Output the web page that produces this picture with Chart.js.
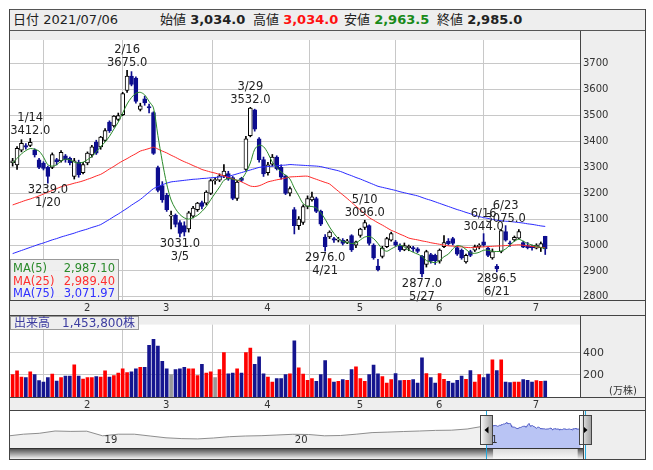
<!DOCTYPE html>
<html>
<head>
<meta charset="utf-8">
<script src="https://cdn.jsdelivr.net/npm/chart.js@4.4.0/dist/chart.umd.min.js"></script>
<style>
  body { margin: 0; width: 653px; height: 470px; position: relative; overflow: hidden; background: #fff;
         font-family: "DejaVu Sans", "Noto Sans CJK JP", sans-serif; }
  canvas { position: absolute; left: 0; }
  .ov { position: absolute; box-sizing: border-box; }
  #head { left: 9px; top: 9px; width: 637px; height: 22px; background: #eeeeee; border: 1px solid #555;
          font-size: 13px; line-height: 20px; color: #222; white-space: nowrap; }
  #head span { position: absolute; top: 0; }
  #head b { font-weight: bold; }
  .line { position: absolute; background: #444; }
  #legend { left: 10px; top: 259px; width: 109px; height: 42px; background: rgba(238,238,238,0.92);
            border: 1px solid #999; font-size: 11.5px; line-height: 12.6px; padding-top: 2px; }
  #legend div { position: relative; height: 12.6px; }
  #legend span { position: absolute; }
  #vlabel { left: 10px; top: 316px; height: 14px; padding: 0 3px; background: #eeeeee; border: 1px solid #999;
            font-size: 12px; line-height: 12px; color: #3c3ca0; white-space: nowrap; }
</style>
</head>
<body>
<canvas id="price" width="653" height="284" style="top:31px"></canvas>
<canvas id="vol" width="653" height="95" style="top:315px"></canvas>
<canvas id="nav" width="653" height="50" style="top:410px"></canvas>

<div class="ov" id="head"></div>
<div class="ov" id="legend"></div>
<div class="ov" id="vlabel"></div>

<div class="line" style="left:9px;top:9px;width:1px;height:451px"></div>
<div class="line" style="left:645px;top:9px;width:1px;height:451px"></div>
<div class="line" style="left:9px;top:459px;width:637px;height:1px"></div>
<div class="line" style="left:9px;top:300px;width:637px;height:1px"></div>
<div class="line" style="left:9px;top:315px;width:637px;height:1px"></div>
<div class="line" style="left:9px;top:397px;width:637px;height:1px"></div>
<div class="line" style="left:9px;top:410px;width:637px;height:1px"></div>
<div class="line" style="left:580px;top:31px;width:1px;height:269px"></div>
<div class="line" style="left:580px;top:316px;width:1px;height:81px"></div>
<div class="line" style="left:583px;top:411px;width:1px;height:48px"></div>

<script>
const year = 2021;
const dates = [
  '01/07','01/08','01/12','01/13','01/14','01/15','01/18','01/19','01/20','01/21','01/22','01/25','01/26','01/27','01/28','01/29',
  '02/01','02/02','02/03','02/04','02/05','02/08','02/09','02/10','02/12','02/15','02/16','02/17','02/18','02/19','02/22','02/24','02/25','02/26',
  '03/01','03/02','03/03','03/04','03/05','03/08','03/09','03/10','03/11','03/12','03/15','03/16','03/17','03/18','03/19','03/22','03/23','03/24','03/25','03/26','03/29','03/30','03/31',
  '04/01','04/02','04/05','04/06','04/07','04/08','04/09','04/12','04/13','04/14','04/15','04/16','04/19','04/20','04/21','04/22','04/23','04/26','04/27','04/28','04/30',
  '05/06','05/07','05/10','05/11','05/12','05/13','05/14','05/17','05/18','05/19','05/20','05/21','05/24','05/25','05/26','05/27','05/28','05/31',
  '06/01','06/02','06/03','06/04','06/07','06/08','06/09','06/10','06/11','06/14','06/15','06/16','06/17','06/18','06/21','06/22','06/23','06/24','06/25','06/28','06/29','06/30',
  '07/01','07/02','07/05','07/06'
];

const open = [
  3318,3310,3367,3384,3385,3367,3329,3317,3300,3300,3330,3325,3345,3335,3265,3320,
  3280,3317,3348,3398,3379,3404,3475,3460,3485,3504,3597,3653,3645,3524,3565,3535,3512,3299,
  3230,3193,3112,3115,3087,3075,3062,3112,3137,3164,3162,3199,3249,3251,3267,3276,3261,3180,3258,3292,3423,3522,3410,
  3330,3280,3312,3340,3300,3267,3200,3137,3075,3087,3149,3174,3180,3130,3031,3031,3025,3019,3019,3010,3037,
  3000,3037,3068,3075,3000,2919,2956,2994,3019,3012,2996,2981,2990,2990,2985,2956,2925,2963,
  2960,2938,2994,3015,3025,2990,2980,2935,2975,2980,2994,3012,2988,2950,2918,2975,3052,3008,3020,3027,3010,2998,
  2995,2988,2990,3034
];
const high = [
  3335,3380,3407,3392,3412,3372,3335,3322,3305,3356,3335,3365,3350,3340,3335,3328,
  3320,3360,3385,3405,3420,3450,3480,3500,3510,3590,3675,3670,3650,3548,3575,3545,3515,3305,
  3245,3200,3131,3120,3095,3090,3130,3150,3165,3170,3210,3255,3262,3275,3311,3285,3265,3250,3262,3420,3532,3525,3415,
  3340,3320,3350,3345,3310,3270,3225,3145,3110,3155,3190,3205,3185,3135,3040,3055,3030,3030,3025,3022,3040,
  3015,3065,3096,3078,3005,2945,2995,3030,3050,3018,3005,3008,3000,2995,2990,2960,2980,2968,
  2965,2985,3037,3025,3030,2995,2985,2965,2980,3000,3005,3044,2992,2985,2925,3060,3075,3015,3035,3060,3015,3010,
  3000,3005,3012,3034
];
const low = [
  3305,3292,3360,3370,3380,3340,3295,3290,3239,3295,3310,3320,3320,3310,3255,3262,
  3275,3310,3340,3350,3370,3400,3435,3455,3480,3500,3590,3615,3548,3518,3540,3510,3350,3205,
  3165,3130,3062,3070,3031,3035,3050,3105,3130,3140,3155,3195,3235,3245,3260,3250,3175,3172,3245,3288,3418,3440,3320,
  3265,3270,3305,3290,3255,3195,3190,3043,3060,3080,3140,3170,3125,3075,2976,3025,3010,3012,3000,3005,2975,
  2990,3030,3060,3000,2945,2900,2950,2990,3015,2995,2975,2978,2978,2975,2970,2877,2915,2930,
  2925,2930,2990,3000,3000,2960,2945,2930,2955,2975,2985,2995,2955,2945,2896.5,2970,3015,2995,3015,3025,2990,2985,
  2980,2985,2975,2963.5
];
const close = [
  3325,3374,3393,3378,3397,3348,3300,3296,3265,3350,3322,3358,3330,3318,3325,3272,
  3311,3355,3379,3355,3417,3442,3442,3498,3500,3585,3653,3621,3555,3538,3549,3530,3354,3211,
  3174,3137,3112,3080,3045,3050,3124,3143,3162,3149,3205,3249,3249,3267,3286,3255,3180,3243,3250,3410,3529,3448,3330,
  3275,3310,3340,3295,3262,3199,3218,3075,3100,3149,3180,3186,3130,3081,2994,3050,3019,3023,3006,3016,2981,
  3012,3062,3087,3006,2950,2905,2988,3025,3044,3000,2981,2998,2995,2985,2975,2888,2975,2938,
  2940,2981,3010,3005,3006,2965,2950,2960,2960,2994,3000,3000,2960,2975,2908,3056,3019,3005,3030,3052,2992,2990,
  2990,3000,3006,2985
];
// 出来高 (万株)
const volume = [
  203,237,181,176,229,203,149,136,176,208,144,176,189,189,291,189,
  163,176,176,184,181,237,181,195,216,256,221,229,256,269,269,469,523,461,
  323,256,203,248,256,269,256,256,195,296,216,229,176,248,403,211,216,256,216,403,443,296,363,
  211,181,136,168,168,203,211,509,265,208,151,167,143,203,329,167,135,143,157,151,248,
  273,167,143,203,289,211,184,127,157,213,149,151,151,157,127,354,213,176,
  127,213,159,143,127,151,189,159,240,135,203,176,208,337,240,337,135,130,135,135,157,151,
  135,149,143,145.38
];
const ma5 = [
  3317,3335,3352,3365,3373,3370,3363,3340,3310,3305,3310,3325,3332,3330,3320,3317,
  3320,3330,3342,3360,3380,3398,3420,3448,3475,3510,3545,3570,3586,3590,3580,3555,3530,3423,
  3323,3236,3174,3140,3118,3105,3100,3106,3115,3130,3149,3175,3200,3224,3250,3257,3255,3250,3255,3280,3317,3370,3386,
  3380,3355,3320,3300,3282,3270,3255,3220,3190,3160,3150,3149,3143,3125,3100,3070,3045,3025,3014,3010,3006,
  3008,3020,3031,3033,3025,3006,2985,2976,2985,2994,3000,2992,2981,2972,2965,2956,2940,2935,
  2932,2940,2955,2965,2985,2998,2995,2983,2970,2968,2972,2980,2980,2976,2975,2976,2985,3000,3015,3022,3015,3006,
  3000,2995,2990,2987.10
];
const ma25 = [
  3155,3161,3167,3173,3178,3184,3190,3197,3204,3211,3218,3225,3230,3234,3239,3243,
  3248,3254,3260,3267,3273,3283,3294,3304,3315,3325,3334,3344,3353,3363,3368,3373,3378,3371,
  3363,3356,3347,3339,3330,3322,3315,3307,3300,3292,3287,3282,3278,3273,3267,3261,3256,3250,3244,3236,3228,3226,3229,
  3236,3244,3248,3252,3255,3259,3263,3264,3265,3266,3266,3260,3254,3248,3242,3236,3222,3208,3194,3180,3165,
  3150,3136,3121,3106,3096,3086,3077,3067,3057,3050,3042,3035,3027,3023,3020,3016,3013,3009,
  3006,3003,3000,2997,2996,2994,2993,2991,2990,2991,2992,2993,2994,2995,2996,2997,2998,2999,3000,3001,2999,2997,
  2995,2993,2991,2989.40
];
const ma75 = [
  2967,2973,2979,2985,2991,2997,3003,3008,3014,3020,3025,3031,3036,3041,3046,3052,
  3057,3062,3068,3073,3079,3089,3099,3110,3120,3131,3142,3154,3165,3176,3190,3204,3218,3226,
  3233,3239,3244,3246,3248,3250,3252,3254,3255,3257,3258,3260,3261,3263,3264,3266,3270,3275,3280,3285,3290,3295,3300,
  3302,3303,3305,3306,3308,3309,3311,3310,3309,3308,3307,3306,3305,3303,3299,3295,3291,3287,3281,3274,3268,
  3261,3255,3248,3241,3234,3227,3223,3219,3215,3211,3206,3202,3198,3194,3190,3184,3178,3173,
  3167,3161,3155,3149,3143,3137,3132,3126,3121,3115,3110,3106,3103,3099,3096,3094,3092,3091,3089,3087,3085,3082,
  3080,3077,3074,3071.97
];
const priceTicks = [2800, 2900, 3000, 3100, 3200, 3300, 3400, 3500, 3600, 3700];
const volTicks = [200, 400];
const highMarks = ['01/14', '02/16', '03/29', '05/10', '06/16', '06/23'];
const lowMarks = ['01/20', '03/05', '04/21', '05/27', '06/21'];
// navigator: monthly closes Jul 2018 .. Dec 2020
const navValues = [
  2300,2480,2570,2800,2760,2780,2320,2480,2480,2300,2120,2040,2010,2100,2230,
  2300,2330,2400,2470,2450,2320,2350,2480,2640,2690,2750,2800,2860,2880,3000
];
const navYears = ['19', '20', '21'];

const n = dates.length;
const DOWN = '#0d0d8f';
const GRID = '#c8c8c8';
const X_MIN = -0.6, X_MAX = 128.9;
Chart.defaults.font.family = "'DejaVu Sans', sans-serif";
Chart.defaults.color = '#333';

const dir = close.map((c, i) => Math.sign(c - open[i]));
const monthStarts = dates.map((d, i) => i).filter(i => i > 0 && dates[i].slice(0, 2) !== dates[i - 1].slice(0, 2));
const fmt = (v, d) => v.toLocaleString('en-US', { minimumFractionDigits: d, maximumFractionDigits: d });

const panelBg = {
  id: 'panelBg',
  beforeDraw(chart) {
    const { ctx, chartArea: a, height } = chart;
    ctx.save();
    ctx.fillStyle = '#eeeeee';
    ctx.fillRect(9, 0, 636, height);
    ctx.fillStyle = '#ffffff';
    ctx.fillRect(a.left, a.top, a.right - a.left, a.bottom - a.top);
    ctx.restore();
  }
};

const marks = {
  id: 'marks',
  afterDatasetsDraw(chart) {
    const { ctx, scales: { x, y } } = chart;
    ctx.save();
    ctx.font = '11.5px "DejaVu Sans"';
    ctx.fillStyle = '#222';
    ctx.textAlign = 'center';
    ctx.textBaseline = 'alphabetic';
    highMarks.forEach(d => {
      const i = dates.indexOf(d);
      const px = x.getPixelForValue(i), py = y.getPixelForValue(high[i]);
      ctx.fillText(high[i].toFixed(1), px, py - 4);
      ctx.fillText(+d.slice(0, 2) + '/' + +d.slice(3), px, py - 17);
    });
    lowMarks.forEach(d => {
      const i = dates.indexOf(d);
      const px = x.getPixelForValue(i), py = y.getPixelForValue(low[i]);
      ctx.fillText(low[i].toFixed(1), px, py + 10);
      ctx.fillText(+d.slice(0, 2) + '/' + +d.slice(3), px, py + 23);
    });
    ctx.restore();
  }
};

function xAxis(h) {
  return {
    type: 'linear', min: X_MIN, max: X_MAX, offset: false,
    afterBuildTicks: s => { s.ticks = monthStarts.map(v => ({ value: v })); },
    afterFit: s => { s.height = h; },
    ticks: { callback: v => String(+dates[v].slice(0, 2)), labelOffset: 4, autoSkip: false, maxRotation: 0,
             padding: 2, font: { size: 10 }, color: '#333' },
    grid: { color: GRID, drawTicks: false },
    border: { display: false }
  };
}

new Chart(document.getElementById('price'), {
  type: 'bar',
  data: {
    datasets: [
      { type: 'line', data: ma5.map((v, i) => ({ x: i, y: v })), borderColor: '#2a8a2a', borderWidth: 1, pointRadius: 0, tension: 0.3, order: 0 },
      { type: 'line', data: ma25.map((v, i) => ({ x: i, y: v })), borderColor: '#ff2a2a', borderWidth: 1, pointRadius: 0, tension: 0.3, order: 0 },
      { type: 'line', data: ma75.map((v, i) => ({ x: i, y: v })), borderColor: '#2a2aff', borderWidth: 1, pointRadius: 0, tension: 0.3, order: 0 },
      { data: dates.map((d, i) => ({ x: i, y: [open[i], close[i]] })),
        backgroundColor: dir.map(v => v < 0 ? DOWN : '#ffffff'),
        borderColor: dir.map(v => v < 0 ? DOWN : '#000000'),
        borderWidth: 1, borderSkipped: false, barThickness: 4, minBarLength: 1, grouped: false, order: 1 },
      { data: dates.map((d, i) => ({ x: i, y: [low[i], high[i]] })),
        backgroundColor: dir.map(v => v < 0 ? DOWN : '#000000'),
        barThickness: 1, grouped: false, order: 2 }
    ]
  },
  options: {
    responsive: false, animation: false,
    layout: { padding: { left: 10, right: 8, top: 0, bottom: 0 } },
    plugins: { legend: { display: false }, tooltip: { enabled: false } },
    scales: {
      x: xAxis(15),
      y: {
        position: 'right', min: 2787.7, max: 3792.2,
        afterBuildTicks: s => { s.ticks = priceTicks.map(v => ({ value: v })); },
        afterFit: s => { s.width = 65; },
        ticks: { callback: v => String(v), padding: 3, font: { size: 10 }, color: '#333' },
        grid: { color: GRID, drawTicks: false },
        border: { display: false }
      }
    }
  },
  plugins: [panelBg, marks]
});

const volUnit = {
  id: 'volUnit',
  afterDraw(chart) {
    const { ctx } = chart;
    ctx.save();
    ctx.font = '10px "DejaVu Sans", "Noto Sans CJK JP"';
    ctx.fillStyle = '#333';
    ctx.textBaseline = 'middle';
    ctx.fillText('(万株)', 609, 76);
    ctx.restore();
  }
};

new Chart(document.getElementById('vol'), {
  type: 'bar',
  data: {
    datasets: [{
      data: volume.map((v, i) => ({ x: i, y: v })),
      backgroundColor: dir.map(v => v > 0 ? '#ff0000' : v < 0 ? '#15158f' : '#999999'),
      barThickness: 3
    }]
  },
  options: {
    responsive: false, animation: false,
    layout: { padding: { left: 10, right: 8, top: 0, bottom: 0 } },
    plugins: { legend: { display: false }, tooltip: { enabled: false } },
    scales: {
      x: xAxis(13),
      y: {
        position: 'right', min: 0, max: 656,
        afterBuildTicks: s => { s.ticks = volTicks.map(v => ({ value: v })); },
        afterFit: s => { s.width = 65; },
        ticks: { callback: v => String(v), padding: 3, font: { size: 11 }, color: '#333' },
        grid: { color: GRID, drawTicks: false },
        border: { display: false }
      }
    }
  },
  plugins: [panelBg, volUnit]
});

// navigator: x in months since Jan 2019
const PX_M = 15.85;
const NAV_MIN = (10 - 102.6) / PX_M, NAV_MAX = (583 - 102.6) / PX_M;
const monthOf = d => (year - 2019) * 12 + (+d.slice(0, 2) - 1) + (+d.slice(3) - 1) / 31;
const winPts = dates.map((d, i) => ({ x: monthOf(d), y: close[i] }));
const pastPts = navValues.map((v, i) => ({ x: i - 6, y: v })).concat([winPts[0]]);

const navDeco = {
  id: 'navDeco',
  beforeDraw(chart) {
    const { ctx, height } = chart;
    ctx.save();
    ctx.fillStyle = '#eeeeee';
    ctx.fillRect(9, 0, 636, height);
    ctx.fillStyle = '#ffffff';
    ctx.fillRect(10, 1, 573, 37);
    ctx.restore();
  },
  afterDraw(chart) {
    const { ctx, scales: { x } } = chart;
    ctx.save();
    ctx.font = '10px "DejaVu Sans"';
    ctx.fillStyle = '#333';
    ctx.textBaseline = 'middle';
    navYears.forEach((t, k) => ctx.fillText(t, x.getPixelForValue(k * 12) + 2, 30));
    // scrollbar
    const x0 = x.getPixelForValue(winPts[0].x), x1 = x.getPixelForValue(winPts[n - 1].x) + 4;
    let g = ctx.createLinearGradient(0, 38, 0, 49);
    g.addColorStop(0, '#444'); g.addColorStop(1, '#f4f4f4');
    ctx.fillStyle = g; ctx.fillRect(10, 38, 573, 11);
    g = ctx.createLinearGradient(0, 38, 0, 49);
    g.addColorStop(0, '#d8d8d8'); g.addColorStop(1, '#f8f8f8');
    ctx.fillStyle = g; ctx.fillRect(x0 + 7, 38, x1 - x0 - 14, 11);
    ctx.strokeStyle = '#333'; ctx.lineWidth = 1;
    ctx.beginPath(); ctx.moveTo(10, 38.5); ctx.lineTo(583, 38.5); ctx.stroke();
    // window edges
    ctx.strokeStyle = '#22aadd';
    [x0, x1].forEach(px => { ctx.beginPath(); ctx.moveTo(Math.round(px) + 0.5, 1); ctx.lineTo(Math.round(px) + 0.5, 49); ctx.stroke(); });
    // handles
    [[x0, -1], [x1, 1]].forEach(([px, s]) => {
      const hx = Math.round(px) - 6;
      const hg = ctx.createLinearGradient(hx, 0, hx + 13, 0);
      hg.addColorStop(0, '#ffffff'); hg.addColorStop(1, '#9a9a9a');
      ctx.fillStyle = hg;
      ctx.fillRect(hx, 5, 13, 30);
      ctx.strokeStyle = '#444';
      ctx.strokeRect(hx + 0.5, 5.5, 12, 29);
      ctx.fillStyle = '#000';
      ctx.beginPath();
      const cx = hx + 6.5;
      ctx.moveTo(cx + 2 * s, 20); ctx.lineTo(cx - 2 * s, 16.5); ctx.lineTo(cx - 2 * s, 23.5);
      ctx.closePath(); ctx.fill();
    });
    ctx.restore();
  }
};

new Chart(document.getElementById('nav'), {
  type: 'line',
  data: {
    datasets: [
      { data: pastPts, borderColor: '#8e8e8e', borderWidth: 1, pointRadius: 0, fill: 'start', backgroundColor: '#f0f0f0' },
      { data: winPts, borderColor: '#5560c8', borderWidth: 1, pointRadius: 0, fill: 'start', backgroundColor: '#b9c4f4' }
    ]
  },
  options: {
    responsive: false, animation: false,
    layout: { padding: { left: 10, right: 70, top: 0, bottom: 12 } },
    plugins: { legend: { display: false }, tooltip: { enabled: false } },
    scales: {
      x: { type: 'linear', min: NAV_MIN, max: NAV_MAX, display: false },
      y: { min: 1100, max: 4900, display: false }
    }
  },
  plugins: [navDeco]
});

// header, legend, volume label
const L = n - 1;
const [yy, mm, dd] = [year, dates[L].slice(0, 2), dates[L].slice(3)];
document.getElementById('head').innerHTML =
  `<span style="left:3px">日付 ${yy}/${mm}/${dd}</span>` +
  `<span style="left:150px">始値 <b>${fmt(open[L], 1)}</b></span>` +
  `<span style="left:243px">高値 <b style="color:#ff1010">${fmt(high[L], 1)}</b></span>` +
  `<span style="left:334px">安値 <b style="color:#1a8a1a">${fmt(low[L], 1)}</b></span>` +
  `<span style="left:427px">終値 <b>${fmt(close[L], 1)}</b></span>`;
const legendRows = [['MA(5)', ma5[L], '#2a8a2a'], ['MA(25)', ma25[L], '#ff3030'], ['MA(75)', ma75[L], '#3030ff']];
document.getElementById('legend').innerHTML = legendRows.map(([t, v, c]) =>
  `<div style="color:${c}"><span style="left:2px">${t}</span><span style="right:3px">${fmt(v, 2)}</span></div>`).join('');
document.getElementById('vlabel').textContent = `出来高\u3000${Math.round(volume[L] * 10000).toLocaleString('en-US')}株`;
</script>
</body>
</html>
